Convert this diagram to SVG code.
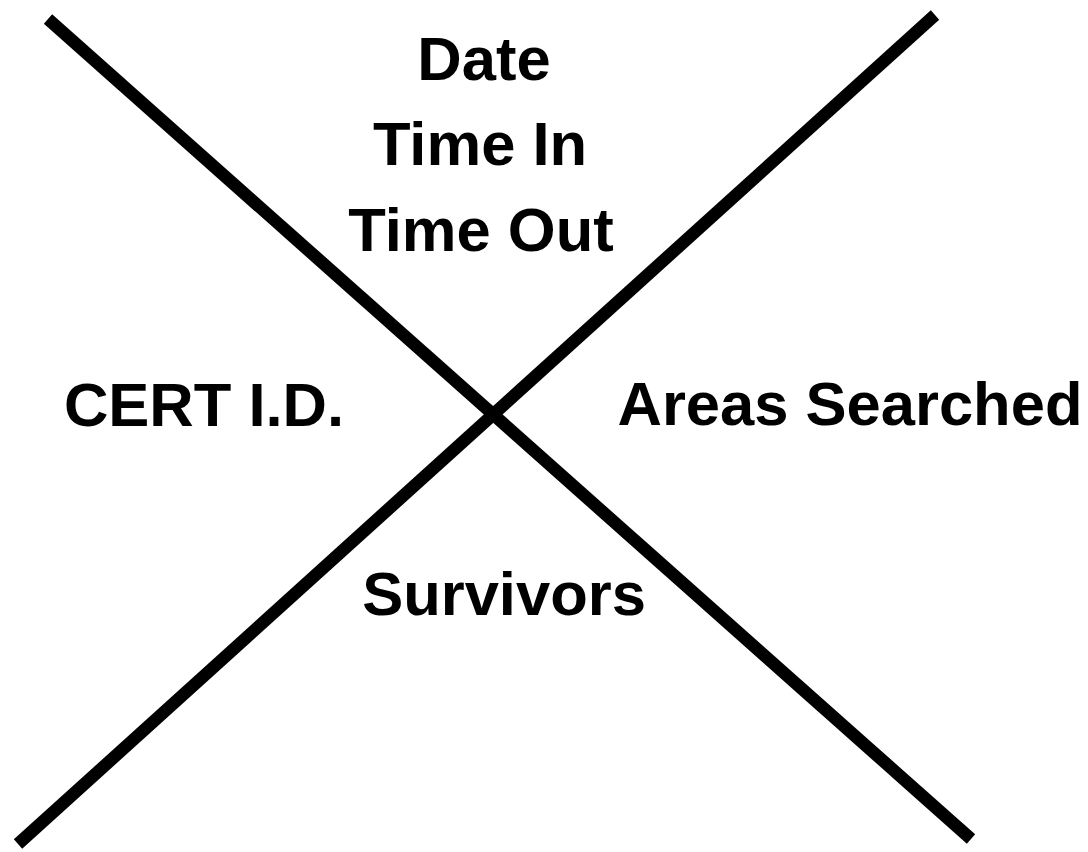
<svg xmlns="http://www.w3.org/2000/svg" width="1088" height="852" viewBox="0 0 1088 852">
<style>
.t{font-family:"Liberation Sans",Arial,sans-serif;font-weight:bold;font-size:61.5px;fill:#000;text-anchor:middle}
.l{stroke:#000;stroke-width:12.5;fill:none}
</style>
<rect width="1088" height="852" fill="#fff"/>
<g id="connectors">
<line class="l" x1="48" y1="19" x2="971" y2="839"/>
<line class="l" x1="935" y1="15" x2="18" y2="844"/>
</g>
<g id="top"><text class="t" x="484" y="80">Date</text><text class="t" x="480" y="165">Time In</text><text class="t" x="481" y="251">Time Out</text></g>
<g id="left"><text class="t" x="204" y="426">CERT I.D.</text></g>
<g id="right"><text class="t" x="850" y="425">Areas Searched</text></g>
<g id="bottom"><text class="t" x="504" y="615">Survivors</text></g>
</svg>
